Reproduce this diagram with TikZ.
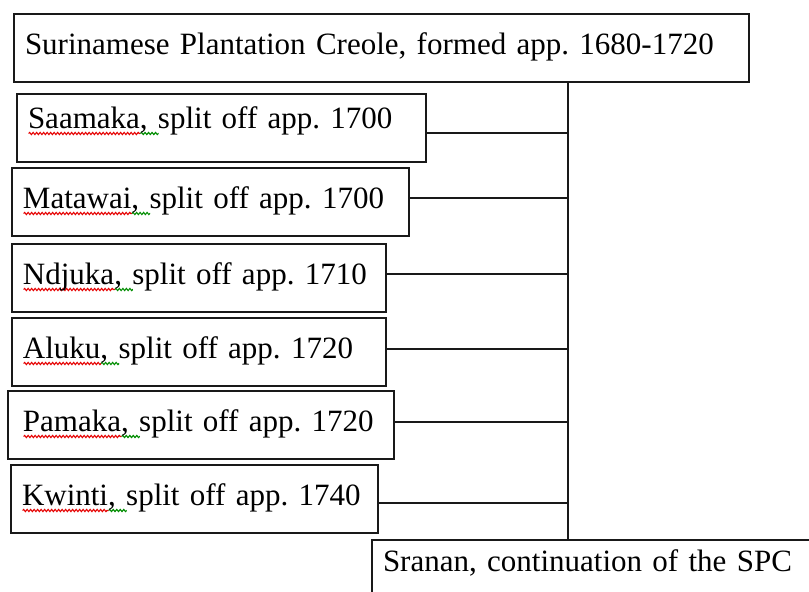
\documentclass[tikz,border=0pt]{standalone}
\usepackage{fontspec}
\setmainfont{Liberation Serif}
\usetikzlibrary{decorations.pathmorphing}
\newsavebox{\errbox}
\newcommand{\spellerr}[1]{\sbox{\errbox}{#1}\rlap{\tikz[baseline=0pt]\draw[red!90!black, line width=1.1pt,
  decorate, decoration={snake, amplitude=1.1pt, segment length=3.5pt}] (0pt,-5.5pt) -- ++(\wd\errbox,0pt);}\usebox{\errbox}}
\newcommand{\grammarerr}[1]{\sbox{\errbox}{#1}\rlap{\tikz[baseline=0pt]\draw[green!55!black, line width=1.1pt,
  decorate, decoration={snake, amplitude=1.1pt, segment length=3.5pt}] (0pt,-5.5pt) -- ++(\wd\errbox,0pt);}\usebox{\errbox}}

\begin{document}
\frenchspacing
\begin{tikzpicture}[
  x=1pt, y=-1pt, font=\fontsize{31pt}{37pt}\selectfont\frenchspacing,
  lang/.style={draw=black!90, line width=2pt, anchor=north west, align=left,
               inner xsep=11pt, inner ysep=0pt, text height=40pt, text depth=28pt},
  branch/.style={draw=black!90, line width=2pt}
]
\path[use as bounding box, clip] (0,0) rectangle (809,592);

\node[lang, text width=713pt] (spc) at (13,13) {Surinamese Plantation Creole, formed app. 1680-1720};

\node[lang, text width=387pt, text height=34pt, text depth=34pt] (saamaka) at (16,93)
  {\spellerr{Saamaka}\grammarerr{, }split off app. 1700};
\node[lang, text width=375pt] (matawai) at (11,167) {\spellerr{Matawai}\grammarerr{, }split off app. 1700};
\node[lang, text width=352pt] (ndjuka)  at (11,243) {\spellerr{Ndjuka}\grammarerr{, }split off app. 1710};
\node[lang, text width=352pt] (aluku)   at (11,317) {\spellerr{Aluku}\grammarerr{, }split off app. 1720};
\node[lang, text width=356pt, inner xsep=15pt] (pamaka) at (7,390) {\spellerr{Pamaka}\grammarerr{, }split off app. 1720};
\node[lang, text width=345pt] (kwinti)  at (10,464) {\spellerr{Kwinti}\grammarerr{, }split off app. 1740};

\node[lang, text width=500pt, text height=31pt, text depth=40pt] (sranan) at (371,539)
  {Sranan, continuation of the SPC};

\coordinate (trunk) at (568,82);
\draw[branch] (spc.south -| trunk) -- (sranan.north -| trunk);
\draw[branch] ([yshift=-5pt]saamaka.east) -- ([yshift=-5pt]saamaka.east -| trunk);
\draw[branch] ([yshift=4pt]matawai.east) -- ([yshift=4pt]matawai.east -| trunk);
\draw[branch] ([yshift=4pt]ndjuka.east)  -- ([yshift=4pt]ndjuka.east -| trunk);
\draw[branch] ([yshift=3pt]aluku.east)   -- ([yshift=3pt]aluku.east -| trunk);
\draw[branch] ([yshift=3pt]pamaka.east)  -- ([yshift=3pt]pamaka.east -| trunk);
\draw[branch] ([yshift=-4pt]kwinti.east) -- ([yshift=-4pt]kwinti.east -| trunk);
\end{tikzpicture}
\end{document}
